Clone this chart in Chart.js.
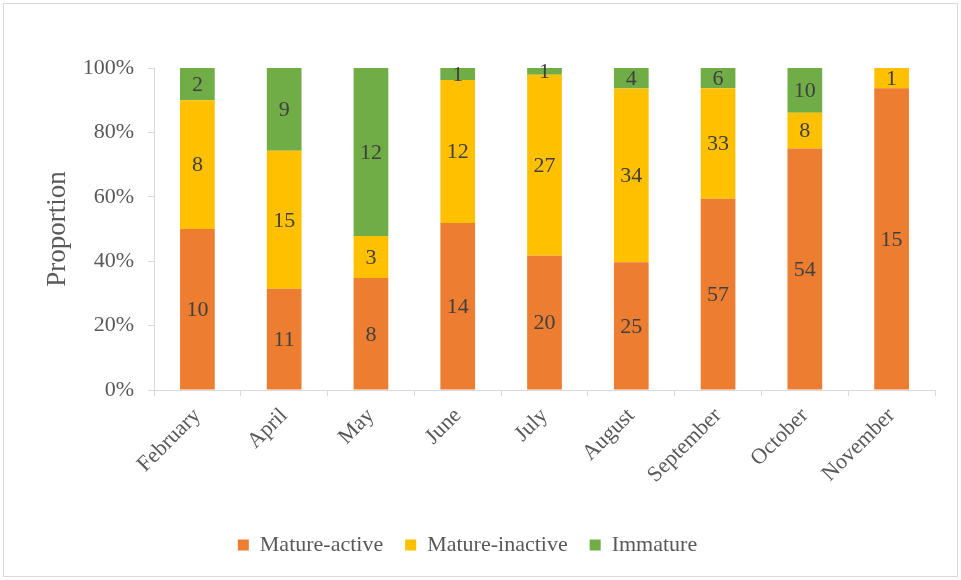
<!DOCTYPE html>
<html>
<head>
<meta charset="utf-8">
<script src="https://cdn.jsdelivr.net/npm/chart.js@4.4.1/dist/chart.umd.min.js"></script>
<style>
    html, body { margin: 0; padding: 0; background: #fff; }
    #wrap { position: relative; width: 961px; height: 580px; }
</style>
</head>
<body>
<div id="wrap"><canvas id="grafico" width="961" height="580"></canvas></div>
<script>
// Dados (contagens por mês)
const meses = ['February', 'April', 'May', 'June', 'July', 'August', 'September', 'October', 'November'];
const maturoAtivo = [10, 11, 8, 14, 20, 25, 57, 54, 15];
const maturoInativo = [8, 15, 3, 12, 27, 34, 33, 8, 1];
const imaturo = [2, 9, 12, 1, 1, 4, 6, 10, 0];
const ticksY = [0, 0.2, 0.4, 0.6, 0.8, 1];

const fonte = 'Liberation Serif';

// totais para barras 100%
const totais = meses.map((m, i) => maturoAtivo[i] + maturoInativo[i] + imaturo[i]);
const proporcao = arr => arr.map((v, i) => v / totais[i]);

// Rótulos com a contagem no meio de cada segmento
const rotulosPlugin = {
    id: 'rotulos',
    afterDatasetsDraw(chart) {
        const ctx = chart.ctx;
        ctx.save();
        ctx.font = '22px "' + fonte + '"';
        ctx.fillStyle = '#404040';
        ctx.textAlign = 'center';
        ctx.textBaseline = 'middle';
        chart.data.datasets.forEach((ds, di) => {
            const meta = chart.getDatasetMeta(di);
            meta.data.forEach((bar, i) => {
                const n = ds.contagens[i];
                if (!n) return;
                ctx.fillText(String(n), bar.x, (bar.y + bar.base) / 2 + 1);
            });
        });
        ctx.restore();
    }
};

// Moldura em volta do gráfico
const molduraPlugin = {
    id: 'moldura',
    beforeDraw(chart) {
        const ctx = chart.ctx;
        ctx.save();
        ctx.strokeStyle = '#D9D9D9';
        ctx.lineWidth = 1;
        ctx.strokeRect(3.5, 3.5, chart.width - 7, chart.height - 7);
        ctx.restore();
    }
};

const ctx = document.getElementById('grafico').getContext('2d');
new Chart(ctx, {
    type: 'bar',
    data: {
        labels: meses,
        datasets: [
            { label: 'Mature-active', data: proporcao(maturoAtivo), contagens: maturoAtivo, backgroundColor: '#ED7D31' },
            { label: 'Mature-inactive', data: proporcao(maturoInativo), contagens: maturoInativo, backgroundColor: '#FFC000' },
            { label: 'Immature', data: proporcao(imaturo), contagens: imaturo, backgroundColor: '#70AD47' }
        ]
    },
    options: {
        responsive: false,
        animation: false,
        layout: { padding: { top: 68, right: 26, bottom: 14, left: 0 } },
        datasets: { bar: { barPercentage: 0.4, categoryPercentage: 1 } },
        scales: {
            x: {
                stacked: true,
                grid: { drawOnChartArea: false, drawTicks: true, tickLength: 6, color: '#D9D9D9' },
                border: { display: true, color: '#D9D9D9' },
                ticks: {
                    color: '#595959',
                    font: { family: fonte, size: 22 },
                    maxRotation: 45,
                    minRotation: 45,
                    padding: 7
                },
                afterFit(scale) { scale.height = 122; }
            },
            y: {
                stacked: true,
                min: 0,
                max: 1,
                afterBuildTicks(scale) { scale.ticks = ticksY.map(v => ({ value: v })); },
                grid: { drawOnChartArea: false, drawTicks: true, tickLength: 6, color: '#D9D9D9' },
                border: { display: true, color: '#D9D9D9' },
                ticks: {
                    color: '#595959',
                    font: { family: fonte, size: 22 },
                    padding: 14,
                    callback: v => Math.round(v * 100) + '%'
                },
                title: {
                    display: true,
                    text: 'Proportion',
                    color: '#595959',
                    font: { family: fonte, size: 27 },
                    padding: { top: 42, bottom: 14 }
                },
                afterFit(scale) { scale.width = 154; }
            }
        },
        plugins: {
            legend: {
                position: 'bottom',
                labels: {
                    color: '#595959',
                    font: { family: fonte, size: 22 },
                    boxWidth: 11,
                    boxHeight: 11,
                    padding: 22
                }
            },
            tooltip: { enabled: false }
        }
    },
    plugins: [rotulosPlugin, molduraPlugin]
});
</script>
</body>
</html>
